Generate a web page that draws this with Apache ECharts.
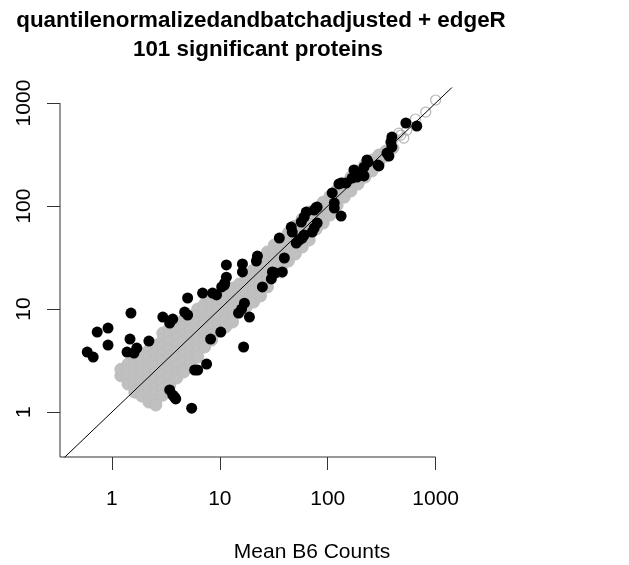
<!DOCTYPE html>
<html><head><meta charset="utf-8">
<script src="https://cdn.jsdelivr.net/npm/echarts@6/dist/echarts.min.js"></script>
<style>html,body{margin:0;padding:0;background:#fff}#c{width:629px;height:565px}</style>
</head><body><div id="c"></div>
<script>
const titleLines = ['quantilenormalizedandbatchadjusted + edgeR', '101 significant proteins'];
const xLabel = 'Mean B6 Counts';
const tickValues = [1, 10, 100, 1000];
const xRange = [0.33, 1480];
const yRange = [0.366, 1400];

// non-significant proteins (grey), grouped by mean B6 count
const nonSigX = [1.21,1.41,1.63,1.89,2.20,2.55,2.96,3.43,3.98,4.62,5.36,6.23,7.22,8.38,9.73,11.3,13.1,15.2,17.6,20.5,23.8,27.6,32.0,37.1,43.1,50.0,58.0,67.3,78.2,90.7,105,122,142,164,191,221,257,298,346,402];
const nonSigY = [
  [2.25,2.6],
  [2.92,2.50,2.14,1.87],
  [3.35,2.86,2.45,2.09,1.79,1.56],
  [3.66,3.13,2.67,2.29,1.96,1.67,1.43],
  [4.00,3.42,2.92,2.50,2.14,1.83,1.56,1.34,1.25],
  [4.47,3.82,3.27,2.80,2.39,2.05,1.75,1.50,1.28,1.17],
  [5.85,5.00,4.28,3.66,3.13,2.67,2.29,1.96,1.67,1.46],
  [6.54,5.59,4.78,4.09,3.50,2.99,2.56,2.19,1.83],
  [7.15,6.11,5.23,4.47,3.82,3.27,2.80,2.39,2.14],
  [7.82,6.69,5.72,4.89,4.18,3.58,3.06,2.62,2.45],
  [8.55,7.31,6.25,5.35,4.57,3.91,3.35,2.92],
  [10.0,8.55,7.31,6.25,5.35,4.57,3.91,3.42],
  [11.2,9.56,8.18,6.99,5.98,5.11,4.28],
  [12.2,10.5,8.94,7.65,6.54,5.59,5.00],
  [13.4,11.4,9.78,8.36,7.15,6.11],
  [14.6,12.5,10.7,9.15,7.82,6.69],
  [16.0,13.7,11.7,10.0,8.55,7.48],
  [17.5,15.0,12.8,10.9,9.35],
  [19.5,16.7,14.3,12.2,10.5],
  [23.9,20.4,17.5,15.0,12.8,11.7],
  [29.2,25.0,21.4,18.3,15.6,13.4],
  [35.8,30.6,26.1,22.4,19.1,16.4],
  [41.8,35.8,30.6,26.1,22.4],
  [47.8,40.9,35.0,29.9,25.6,22.9],
  [54.7,46.8,40.0,34.2,29.2],
  [64.0,54.7,46.8,40.0,34.2],
  [74.8,64.0,54.7,46.8,40.0],
  [87.4,74.8,64.0,54.7,46.8],
  [95.6,81.8,69.9,59.8],
  [109,93.5,80.0,68.4],
  [125,107,91.4,81.8],
  [143,122,102],
  [167,143,122],
  [191,164,140],
  [219,187,164],
  [250,214,191],
  [280,245,219],
  [313,267],
  [342,306],
  [366]
];
// isolated grey proteins at the high end
const nonSigSparse = [[410,457],[456,510],[476,489],[507,457],[541,547],[650,700],[810,818],[1000,1070]];

// significant proteins (black)
const sigPoints = [
  [0.59,3.82],[0.67,3.42],[0.73,5.98],[0.92,6.54],[0.92,4.47],[1.50,9.15],[1.47,5.11],[1.38,3.82],
  [1.60,3.74],[1.70,4.18],[2.20,4.89],[2.96,8.36],[3.43,7.31],[3.66,8.0],[4.72,9.35],[5.03,8.74],
  [5.03,12.8],[3.43,1.64],[3.66,1.46],[3.90,1.34],[3.8,1.40],[5.48,1.09],[5.84,2.56],[6.23,2.56],
  [7.54,2.92],[8.21,5.11],[10.2,5.98],[14.9,9.15],[15.9,10.0],[16.9,11.4],[18.8,8.36],[16.6,4.28],
  [6.92,14.3],[8.56,14.3],[9.32,13.7],[10.4,16.4],[11.1,17.9],[11.0,17.1],[11.5,20.4],[11.5,26.8],
  [16.2,27.4],[16.2,22.9],[21.8,29.2],[22.3,32.7],[24.8,16.4],[30.0,19.6],[30.7,22.9],[32.7,22.4],
  [37.9,22.9],[39.6,31.3],[35.6,48.9],[46.9,55.9],[51.1,43.7],[45.9,62.5],[54.4,46.8],[58.0,48.9],
  [60.5,52.3],[71.8,55.9],[74.9,61.2],[79.8,68.4],[56.8,69.9],[60.5,78.2],[63.2,87.4],[74.9,91.4],
  [79.8,97.8],[78,96],[110,134],[115,107],[115,95.6],[133,80],[133,167],[148,167],[127,164],
  [183,214],[208,209],[205,215],[217,239],[217,196],[236,267],[168,187],[187,191],[175,224],
  [231,280],[292,250],[298,245],[354,327],[369,306],[393,374],[385,418],[393,468],[530,640],[669,598]
];

const identityLine = [[0.3,0.3],[1500,1500]];

const FONT = '"Liberation Sans", Arial, sans-serif';
const nonSigData = [];
nonSigX.forEach((x, i) => nonSigY[i].forEach(y => nonSigData.push([x, y])));
const frame = [[1000, yRange[0]], [xRange[0], yRange[0]], [xRange[0], 1000]];

const chart = echarts.init(document.getElementById('c'), null, {renderer: 'canvas'});
const axisCommon = {
  type: 'log', logBase: 10,
  axisLine: {show: false},
  splitLine: {show: false},
  axisTick: {show: true, length: 13, customValues: tickValues, lineStyle: {color: '#333', width: 1}},
  axisLabel: {customValues: tickValues, fontSize: 21, color: '#000', fontFamily: FONT,
    formatter: v => String(Math.round(v))}
};
chart.setOption({
  animation: false,
  backgroundColor: '#fff',
  grid: {left: 60, top: 88, width: 394, height: 369},
  xAxis: Object.assign({}, axisCommon, {min: xRange[0], max: xRange[1],
    axisLabel: Object.assign({}, axisCommon.axisLabel, {margin: 32})}),
  yAxis: Object.assign({}, axisCommon, {min: yRange[0], max: yRange[1],
    axisLabel: Object.assign({}, axisCommon.axisLabel, {margin: 25, rotate: 90})}),
  graphic: [
    {type: 'text', x: 261, y: 21, style: {text: titleLines[0], font: 'bold 22.4px ' + FONT, fill: '#000', align: 'center', verticalAlign: 'middle'}},
    {type: 'text', x: 258, y: 50, style: {text: titleLines[1], font: 'bold 22.4px ' + FONT, fill: '#000', align: 'center', verticalAlign: 'middle'}},
    {type: 'text', x: 312, y: 552, style: {text: xLabel, font: '21px ' + FONT, fill: '#000', align: 'center', verticalAlign: 'middle'}}
  ],
  series: [
    {type: 'scatter', data: nonSigData, symbol: 'circle', symbolSize: 12,
     itemStyle: {color: '#c0c0c0', borderColor: '#bdbdbd', borderWidth: 1, opacity: 1}, silent: true},
    {type: 'scatter', data: nonSigSparse, symbol: 'circle', symbolSize: 10,
     itemStyle: {color: 'rgba(255,255,255,0)', borderColor: '#b5b5b5', borderWidth: 1.2, opacity: 1}, silent: true},
    {type: 'scatter', data: sigPoints, symbol: 'circle', symbolSize: 11,
     itemStyle: {color: '#000', opacity: 1}, silent: true},
    {type: 'line', data: identityLine, symbol: 'none', clip: true,
     lineStyle: {color: '#000', width: 1}, silent: true},
    {type: 'line', data: frame, symbol: 'none', clip: false,
     lineStyle: {color: '#333', width: 1}, silent: true}
  ]
});
</script>
</body></html>
